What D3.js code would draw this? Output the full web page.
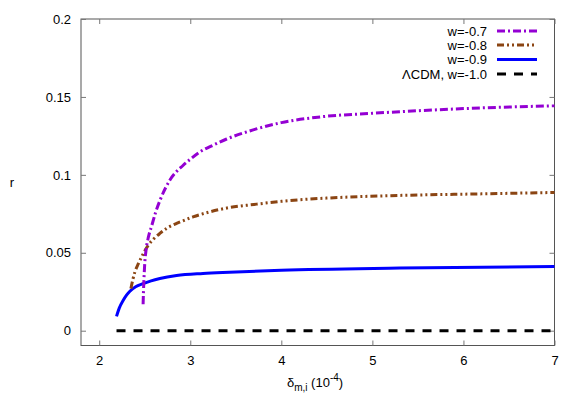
<!DOCTYPE html>
<html>
<head>
<meta charset="utf-8">
<script src="https://cdn.jsdelivr.net/npm/d3@7"></script>
<style>
body{margin:0;background:#fff;}
text{font-family:"Liberation Sans",Arial,sans-serif;font-size:13px;fill:#000;}
</style>
</head>
<body>
<svg id="c" width="581" height="407"></svg>
<script>
// Data
const seriesNames = ["w=-0.7", "w=-0.8", "w=-0.9", "\u039BCDM, w=-1.0"];
const seriesColors = ["#9400d3", "#8b4513", "#0000ff", "#000000"];
const xTicks = [2, 3, 4, 5, 6, 7];
const yTicks = [0, 0.05, 0.1, 0.15, 0.2];
const yTickLabels = ["0", "0.05", "0.1", "0.15", "0.2"];

const w07x = [2.482, 2.486, 2.492, 2.50, 2.515, 2.54, 2.575, 2.62, 2.67, 2.78, 2.92, 3.0, 3.1, 3.25, 3.4, 3.7, 4.0, 4.4, 5.0, 5.3, 6.0, 7.0];
const w07y = [0.017, 0.025, 0.034, 0.043, 0.052, 0.060, 0.067, 0.076, 0.084, 0.097, 0.106, 0.110, 0.1145, 0.119, 0.123, 0.129, 0.1335, 0.137, 0.1395, 0.1405, 0.1425, 0.1443];

const w08x = [2.348, 2.37, 2.392, 2.43, 2.465, 2.538, 2.6, 2.666, 2.75, 2.85, 3.03, 3.21, 3.43, 3.7, 4.0, 4.64, 5.3, 6.2, 7.0];
const w08y = [0.027, 0.033, 0.0377, 0.043, 0.0473, 0.0548, 0.059, 0.0624, 0.066, 0.0688, 0.073, 0.0762, 0.079, 0.081, 0.083, 0.0855, 0.0868, 0.0878, 0.0887];

const w09x = [2.19, 2.22, 2.264, 2.3, 2.337, 2.4, 2.483, 2.57, 2.666, 2.85, 3.14, 3.43, 4.0, 5.3, 7.0];
const w09y = [0.0092, 0.0145, 0.0195, 0.0228, 0.0253, 0.0282, 0.0302, 0.032, 0.0335, 0.0354, 0.0367, 0.0375, 0.0388, 0.0402, 0.0412];

const lcdmX = [2.19, 7.0];
const lcdmY = [0, 0];

const svg = d3.select("#c");
const L = 81, R = 554.5, T = 19, B = 345.5;
const x = d3.scaleLinear().domain([1.8, 7]).range([L, R]);
const y = d3.scaleLinear().domain([-0.0095, 0.2]).range([B, T]);

// frame
svg.append("rect").attr("x", L).attr("y", T).attr("width", R - L).attr("height", B - T)
  .attr("fill", "none").attr("stroke", "#555").attr("stroke-width", 1);

// axes with inward ticks
const tk = 5;
const gBottom = svg.append("g").attr("transform", `translate(0,${B})`)
  .call(d3.axisBottom(x).tickValues(xTicks).tickSizeInner(-tk).tickSizeOuter(0).tickPadding(10).tickFormat(d3.format("d")));
const gTop = svg.append("g").attr("transform", `translate(0,${T})`)
  .call(d3.axisTop(x).tickValues(xTicks).tickSizeInner(-tk).tickSizeOuter(0).tickFormat(""));
const gLeft = svg.append("g").attr("transform", `translate(${L},0)`)
  .call(d3.axisLeft(y).tickValues(yTicks).tickSizeInner(-tk).tickSizeOuter(0).tickPadding(10).tickFormat((d, i) => yTickLabels[i]));
const gRight = svg.append("g").attr("transform", `translate(${R},0)`)
  .call(d3.axisRight(y).tickValues(yTicks).tickSizeInner(-tk).tickSizeOuter(0).tickFormat(""));
[gBottom, gTop, gLeft, gRight].forEach(g => {
  g.select(".domain").remove();
  g.selectAll(".tick line").attr("stroke", "#777");
  g.selectAll("text").attr("font-family", "Liberation Sans, Arial, sans-serif").attr("font-size", 13).attr("fill", "#000");
});

// series
const line = d3.line().x(d => x(d[0])).y(d => y(d[1])).curve(d3.curveMonotoneX);
const seriesData = [
  d3.zip(w07x, w07y), d3.zip(w08x, w08y), d3.zip(w09x, w09y), d3.zip(lcdmX, lcdmY)
];
const dashes = ["8,3,2,3", "7,3,2,3,2,3", null, "9,8"];
const plot = svg.append("g");
[3, 2, 1, 0].forEach(i => {
  plot.append("path").datum(seriesData[i])
    .attr("d", line).attr("fill", "none")
    .attr("stroke", seriesColors[i]).attr("stroke-width", 3)
    .attr("stroke-dasharray", dashes[i]);
});

// legend
const legY = [31, 45, 59.5, 74];
seriesNames.forEach((n, i) => {
  svg.append("text").attr("x", 487).attr("y", legY[i]).attr("dy", "0.35em")
    .attr("text-anchor", "end").text(n);
  svg.append("line").attr("x1", 497).attr("x2", 537).attr("y1", legY[i]).attr("y2", legY[i])
    .attr("stroke", seriesColors[i]).attr("stroke-width", 3)
    .attr("stroke-dasharray", dashes[i]);
});

// axis labels
svg.append("text").attr("x", 12).attr("y", 182).attr("dy", "0.35em").attr("text-anchor", "middle").text("r");
const xl = svg.append("text").attr("x", 315).attr("y", 387).attr("text-anchor", "middle");
xl.append("tspan").text("\u03B4");
xl.append("tspan").attr("font-size", 10).attr("dy", 4).text("m,i");
xl.append("tspan").attr("dy", -4).text(" (10");
xl.append("tspan").attr("font-size", 10).attr("dy", -6).text("-4");
xl.append("tspan").attr("dy", 6).text(")");
</script>
</body>
</html>
